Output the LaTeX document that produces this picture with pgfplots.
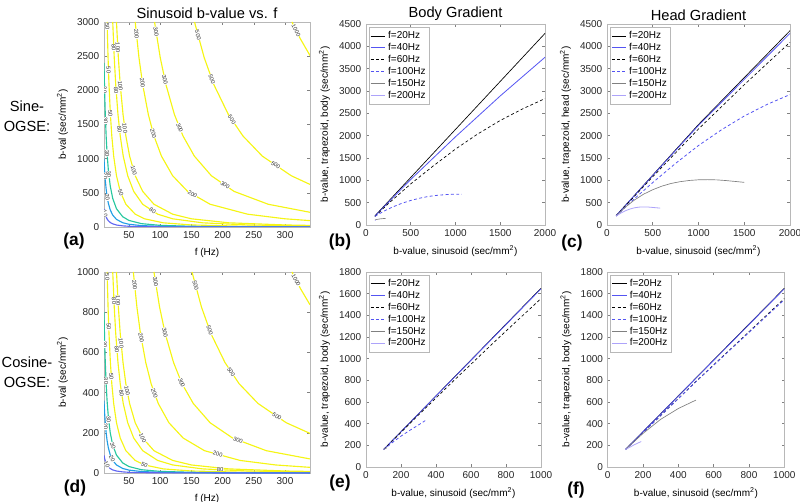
\documentclass[border=0pt]{standalone}
\usepackage{fontspec}
\setmainfont{Liberation Sans}
\usepackage{pgfplots}
\pgfplotsset{compat=1.18}
\definecolor{cten}{rgb}{0.38,0.40,0.95}
\definecolor{ctwenty}{rgb}{0.13,0.62,0.90}
\definecolor{cthirty}{rgb}{0.15,0.78,0.62}
\definecolor{cyel}{rgb}{0.96,0.96,0.08}
\definecolor{mblue}{rgb}{0.33,0.33,0.95}
\definecolor{lblue}{rgb}{0.68,0.64,0.98}
\definecolor{framec}{rgb}{0.72,0.72,0.72}
\tikzset{clab/.style={sloped, fill=white, inner sep=0.2pt, font=\fontsize{4.3}{4.5}\selectfont, text=black!80}}
\pgfplotsset{
  every axis title shift=0pt,
  base/.style={scale only axis, axis line style={framec}, tick style={framec!70!black, thin},
    major tick length=2pt, scaled ticks=false,
    /pgf/number format/assume math mode=true, /pgf/number format/1000 sep={},
    tick label style={font=\fontsize{7.5}{8}\selectfont, text=black!85},
    label style={font=\fontsize{7.5}{9}\selectfont},
    title style={font=\fontsize{11}{12}\selectfont, anchor=south, yshift=-1pt},
    no markers},
  lp/.style={base, legend cell align=left,
    legend style={at={(0.015,0.985)}, anchor=north west, draw=framec, inner sep=1pt,
      font=\fontsize{7.5}{8}\selectfont, row sep=-2pt},
    legend image code/.code={\draw[##1] (0cm,0cm) -- (0.38cm,0cm);},
    xlabel={b-value, sinusoid (sec/mm\textsuperscript{2})}},
  cp/.style={base, xmin=10, xmax=340, xtick={50,100,150,200,250,300}, ymin=0,
    xlabel={f (Hz)}, ylabel={b-val (sec/mm\textsuperscript{2})}},
  cl/.style={line width=0.85pt},
  s20/.style={black, line width=0.5pt},
  s40/.style={mblue, line width=0.6pt},
  s60/.style={black, line width=0.5pt, dash pattern=on 2.2pt off 1.8pt},
  s100/.style={mblue, line width=0.6pt, dash pattern=on 2.2pt off 1.8pt},
  s150/.style={black!50, line width=0.5pt},
  s200/.style={lblue, line width=0.6pt},
}
\begin{document}
\begin{tikzpicture}
\path[use as bounding box] (0pt,0pt) rectangle (600pt,-376.5pt);
% ---------------- (a) ----------------
\begin{axis}[cp, at={(78pt,-16.5pt)}, anchor=north west, width=154.5pt, height=153.75pt,
  ymax=3000, ytick={0,500,1000,1500,2000,2500,3000}, title={Sinusoid b-value vs. f}]
\addplot[cyel,cl] coordinates {(311,3000) (325,2747) (340,2510)} node[clab,pos=0.25]{1000};
\addplot[cyel,cl] coordinates {(155,3000) (170.5,2479) (186,2083) (209.25,1646) (232.5,1333) (263.5,1038) (310,750) (340,623)}
  node[clab,pos=0.08]{500} node[clab,pos=0.35]{500} node[clab,pos=0.6]{500} node[clab,pos=0.88]{500};
\addplot[cyel,cl] coordinates {(91,3000) (100.1,2479) (109.2,2083) (122.85,1646) (136.5,1333) (154.7,1038) (182,750) (218.4,521) (273,333) (340,215)}
  node[clab,pos=0.05]{300} node[clab,pos=0.3]{300} node[clab,pos=0.55]{300} node[clab,pos=0.85]{300};
\addplot[cyel,cl] coordinates {(60,3000) (66,2479) (72,2083) (81,1646) (90,1333) (102,1038) (120,750) (144,521) (180,333) (240,187.5) (300,120) (340,93.4)}
  node[clab,pos=0.06]{200} node[clab,pos=0.3]{200} node[clab,pos=0.55]{200} node[clab,pos=0.85]{200};
\addplot[cyel,cl] coordinates {(30,3000) (33,2479) (36,2083) (40.5,1646) (45,1333) (51,1038) (60,750) (72,521) (90,333) (120,187.5) (150,120) (210,61.2) (300,30) (340,23.4)}
  node[clab,pos=0.12]{100} node[clab,pos=0.3]{100} node[clab,pos=0.5]{100} node[clab,pos=0.7]{100};
\addplot[cyel,cl] coordinates {(24,3000) (26.4,2479) (28.8,2083) (32.4,1646) (36,1333) (40.8,1038) (48,750) (57.6,521) (72,333) (96,187.5) (120,120) (168,61.2) (240,30) (340,14.9)}
  node[clab,pos=0.12]{80} node[clab,pos=0.32]{80} node[clab,pos=0.5]{80} node[clab,pos=0.88]{80};
\addplot[cyel,cl] coordinates {(15,3000) (16.5,2479) (18,2083) (20.25,1646) (22.5,1333) (25.5,1038) (30,750) (36,521) (45,333) (60,187.5) (75,120) (105,61.2) (150,30) (225,13.3) (300,7.5) (340,5.84)}
  node[clab,pos=0.02]{50} node[clab,pos=0.22]{50} node[clab,pos=0.42]{50} node[clab,pos=0.78]{50};
\addplot[cthirty,cl] coordinates {(10,2400) (11,1983) (12,1667) (13.5,1317) (15,1067) (17,830) (20,600) (24,417) (30,267) (40,150) (50,96) (70,49) (100,24) (150,10.7) (200,6) (340,2.1)}
  node[clab,pos=0.15]{30} node[clab,pos=0.32]{30} node[clab,pos=0.5]{30} node[clab,pos=0.62]{30};
\addplot[ctwenty,cl] coordinates {(10,1000) (11,826) (12,694) (13.5,549) (15,444) (17,346) (20,250) (24,174) (30,111) (40,62.5) (50,40) (70,20.4) (100,10) (150,4.4) (340,0.87)}
  node[clab,pos=0.2]{20} node[clab,pos=0.45]{20};
\addplot[cten,cl] coordinates {(10,264) (11,218) (12,183) (13.5,145) (15,117) (17,91) (20,66) (24,46) (30,29) (40,16.5) (50,10.6) (70,5.4) (100,2.6) (150,1.2) (340,0.23)}
  node[clab,pos=0.12]{10};
\end{axis}
% ---------------- (b) ----------------
\begin{axis}[lp, at={(274.5pt,-18pt)}, anchor=north west, width=134.25pt, height=150.75pt,
  xmin=0, xmax=2000, ymin=0, ymax=4500, xtick={0,500,1000,1500,2000},
  ytick={0,500,1000,1500,2000,2500,3000,3500,4000,4500},
  ylabel={b-value, trapezoid, body (sec/mm\textsuperscript{2})}, title={Body Gradient}]
\addplot[s20] coordinates {(100,205) (500,1065) (1000,2140) (1500,3215) (2000,4290)};
\addplot[s40] coordinates {(100,200) (500,1020) (1000,1975) (1500,2890) (2000,3755)};
\addplot[s60] coordinates {(100,190) (250,480) (500,920) (750,1320) (1000,1700) (1250,2040) (1500,2340) (1750,2600) (2000,2830)};
\addplot[s100] coordinates {(100,195) (200,310) (300,405) (400,485) (500,550) (600,600) (700,640) (800,665) (900,682) (1000,690) (1070,690)};
\addplot[s150] coordinates {(100,115) (150,135) (200,145) (220,148)};
\addplot[s200] coordinates {(100,105) (110,107)};
\legend{f=20Hz,f=40Hz,f=60Hz,f=100Hz,f=150Hz,f=200Hz}
\end{axis}
% ---------------- (c) ----------------
\begin{axis}[lp, at={(455.25pt,-18pt)}, anchor=north west, width=137.25pt, height=150.75pt,
  xmin=0, xmax=2000, ymin=0, ymax=4500, xtick={0,500,1000,1500,2000},
  ytick={0,500,1000,1500,2000,2500,3000,3500,4000,4500},
  ylabel={b-value, trapezoid, head (sec/mm\textsuperscript{2})}, title={Head Gradient}]
\addplot[s20] coordinates {(100,210) (1000,2250) (2000,4350)};
\addplot[s40] coordinates {(100,210) (1000,2230) (2000,4290)};
\addplot[s60] coordinates {(100,205) (500,1080) (1000,2150) (1500,3140) (2000,4090)};
\addplot[s100] coordinates {(100,200) (300,590) (500,950) (750,1380) (1000,1780) (1250,2130) (1500,2440) (1750,2700) (2000,2920)};
\addplot[s150] coordinates {(100,200) (200,400) (300,560) (400,690) (500,790) (600,870) (700,930) (800,970) (900,997) (1000,1012) (1100,1015) (1200,1010) (1300,995) (1400,975) (1500,955)};
\addplot[s200] coordinates {(100,200) (150,265) (200,318) (250,357) (300,385) (350,400) (400,405) (450,402) (500,393) (580,378)};
\legend{f=20Hz,f=40Hz,f=60Hz,f=100Hz,f=150Hz,f=200Hz}
\end{axis}
% ---------------- (d) ----------------
\begin{axis}[cp, at={(78pt,-204pt)}, anchor=north west, width=154.5pt, height=150.75pt,
  ymax=1000, ytick={0,200,400,600,800,1000}]
\addplot[cyel,cl] coordinates {(311,1000) (325,916) (340,837)} node[clab,pos=0.25]{1000};
\addplot[cyel,cl] coordinates {(151,1000) (166.1,826) (181.2,694) (203.9,549) (226.5,444) (256.7,346) (302,250) (340,197)}
  node[clab,pos=0.08]{500} node[clab,pos=0.35]{500} node[clab,pos=0.6]{500} node[clab,pos=0.88]{500};
\addplot[cyel,cl] coordinates {(90,1000) (99,826) (108,694) (121.5,549) (135,444) (153,346) (180,250) (216,174) (270,111) (340,70)}
  node[clab,pos=0.05]{300} node[clab,pos=0.3]{300} node[clab,pos=0.55]{300} node[clab,pos=0.85]{300};
\addplot[cyel,cl] coordinates {(57,1000) (62.7,826) (68.4,694) (76.95,549) (85.5,444) (96.9,346) (114,250) (136.8,174) (171,111) (228,62.5) (285,40) (340,28.1)}
  node[clab,pos=0.06]{200} node[clab,pos=0.3]{200} node[clab,pos=0.55]{200} node[clab,pos=0.85]{200};
\addplot[cyel,cl] coordinates {(30,1000) (33,826) (36,694) (40.5,549) (45,444) (51,346) (60,250) (72,174) (90,111) (120,62.5) (150,40) (210,20.4) (300,10) (340,7.8)}
  node[clab,pos=0.12]{100} node[clab,pos=0.3]{100} node[clab,pos=0.5]{100} node[clab,pos=0.7]{100};
\addplot[cyel,cl] coordinates {(24,1000) (26.4,826) (28.8,694) (32.4,549) (36,444) (40.8,346) (48,250) (57.6,174) (72,111) (96,62.5) (120,40) (168,20.4) (240,10) (340,5)}
  node[clab,pos=0.12]{80} node[clab,pos=0.32]{80} node[clab,pos=0.5]{80} node[clab,pos=0.88]{80};
\addplot[cyel,cl] coordinates {(15,1000) (16.5,826) (18,694) (20.25,549) (22.5,444) (25.5,346) (30,250) (36,174) (45,111) (60,62.5) (75,40) (105,20.4) (150,10) (225,4.44) (300,2.5) (340,1.95)}
  node[clab,pos=0.02]{50} node[clab,pos=0.22]{50} node[clab,pos=0.42]{50} node[clab,pos=0.78]{50};
\addplot[cthirty,cl] coordinates {(10,800) (11,661) (12,556) (13.5,439) (15,356) (17,277) (20,200) (24,139) (30,89) (40,50) (50,32) (70,16.3) (100,8) (150,3.6) (200,2) (340,0.7)}
  node[clab,pos=0.15]{30} node[clab,pos=0.32]{30} node[clab,pos=0.5]{30} node[clab,pos=0.62]{30};
\addplot[ctwenty,cl] coordinates {(10,360) (11,298) (12,250) (13.5,198) (15,160) (17,125) (20,90) (24,62.5) (30,40) (40,22.5) (50,14.4) (70,7.3) (100,3.6) (150,1.6) (340,0.31)}
  node[clab,pos=0.2]{20} node[clab,pos=0.45]{20};
\addplot[cten,cl] coordinates {(10,88) (11,72.7) (12,61.1) (13.5,48.3) (15,39.1) (17,30.4) (20,22) (24,15.3) (30,9.8) (40,5.5) (50,3.5) (70,1.8) (100,0.88) (150,0.39) (340,0.08)}
  node[clab,pos=0.12]{10};
\end{axis}
% ---------------- (e) ----------------
\begin{axis}[lp, at={(274.5pt,-204pt)}, anchor=north west, width=131.25pt, height=146.25pt,
  xmin=0, xmax=1000, ymin=0, ymax=1800, xtick={0,200,400,600,800,1000},
  ytick={0,200,400,600,800,1000,1200,1400,1600,1800},
  ylabel={b-value, trapezoid, body (sec/mm\textsuperscript{2})}]
\addplot[s20] coordinates {(100,160) (1000,1650)};
\addplot[s40] coordinates {(100,160) (1000,1645)};
\addplot[s60] coordinates {(100,160) (300,480) (500,795) (750,1180) (1000,1555)};
\addplot[s100] coordinates {(100,160) (150,225) (200,285) (250,338) (300,388) (345,435)};
\addplot[s150] coordinates {(100,160) (120,178)};
\addplot[s200] coordinates {(100,160) (105,164)};
\legend{f=20Hz,f=40Hz,f=60Hz,f=100Hz,f=150Hz,f=200Hz}
\end{axis}
% ---------------- (f) ----------------
\begin{axis}[lp, at={(455.75pt,-204pt)}, anchor=north west, width=132.5pt, height=146.25pt,
  xmin=0, xmax=1000, ymin=0, ymax=1800, xtick={0,200,400,600,800,1000},
  ytick={0,200,400,600,800,1000,1200,1400,1600,1800},
  ylabel={b-value, trapezoid, body (sec/mm\textsuperscript{2})}]
\addplot[s20] coordinates {(100,160) (1000,1650)};
\addplot[s40] coordinates {(100,160) (1000,1645)};
\addplot[s60] coordinates {(100,160) (500,790) (1000,1555)};
\addplot[s100] coordinates {(100,160) (500,788) (1000,1545)};
\addplot[s150] coordinates {(100,160) (200,310) (300,440) (400,540) (500,618)};
\addplot[s200] coordinates {(100,160) (150,205) (190,235)};
\legend{f=20Hz,f=40Hz,f=60Hz,f=100Hz,f=150Hz,f=200Hz}
\end{axis}
% ---------------- panel and row labels ----------------
\begin{scope}[every node/.style={font=\bfseries\fontsize{13}{14}\selectfont}]
\node at (55.5pt,-180.75pt) {(a)};
\node at (255pt,-181.5pt) {(b)};
\node at (429pt,-182.25pt) {(c)};
\node at (56.25pt,-366pt) {(d)};
\node at (255pt,-362.25pt) {(e)};
\node at (432pt,-367.5pt) {(f)};
\end{scope}
\node[align=center, font=\fontsize{11}{15}\selectfont] at (20.25pt,-87pt) {Sine-\\OGSE:};
\node[align=center, font=\fontsize{11}{15}\selectfont] at (20.25pt,-279pt) {Cosine-\\OGSE:};
\end{tikzpicture}
\end{document}
